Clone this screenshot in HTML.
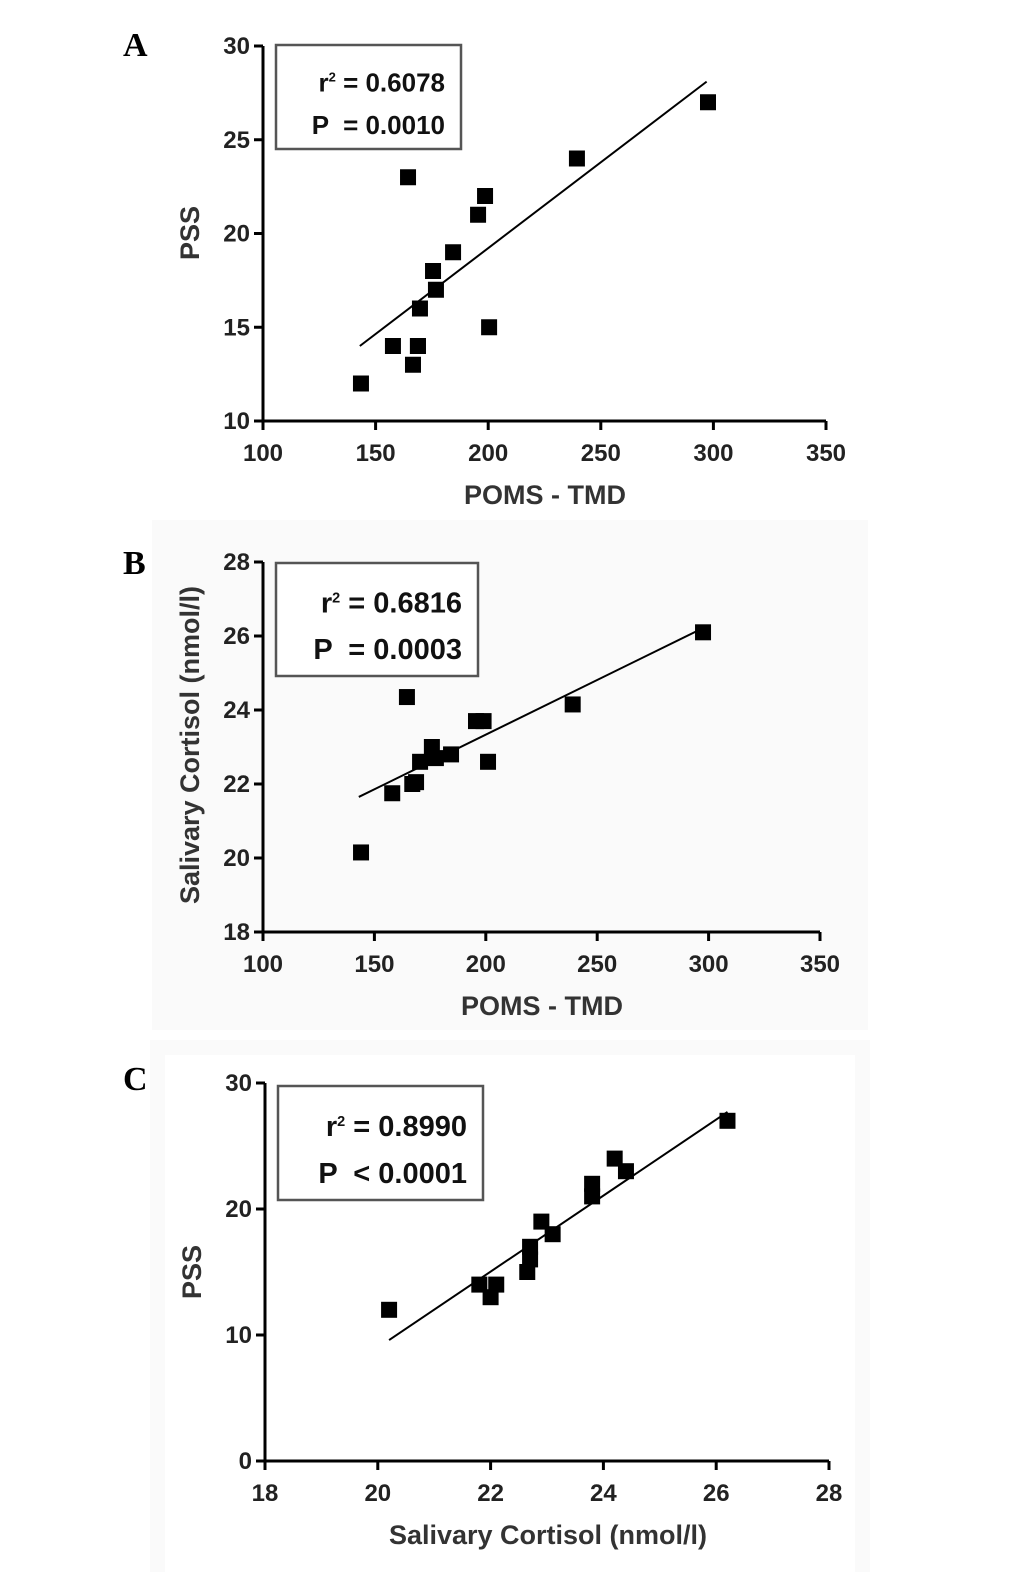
<!DOCTYPE html>
<html><head><meta charset="utf-8">
<style>
html,body{margin:0;padding:0;background:#fff;}
svg{display:block;font-family:"Liberation Sans",Arial,sans-serif;}
text{white-space:pre;}
</style></head>
<body>
<svg id="chart" width="1033" height="1572" viewBox="0 0 1033 1572">
<rect x="0" y="0" width="1033" height="1572" fill="#fff"/>
<rect x="152" y="520" width="716" height="510" fill="#fafafa"/>
<rect x="150" y="1040" width="720" height="532" fill="#fafafa"/>
<rect x="165" y="1055" width="690" height="517" fill="#fff"/>
<g id="plots"></g>
</svg>
<script>
// Panel A data
const aX = [143.5,157.7,164.4,166.6,168.8,169.7,175.5,176.8,184.4,195.5,198.6,200.4,239.4,297.6,168.8];
const aY = [12,14,23,13,14,16,18,17,19,21,22,15,24,27,14];
const aFit = [[143,14],[297,28.1]];
// Panel B data
const bX = [144,158,164.6,167,168.7,170.5,175.8,177.6,184.4,195.6,199,201,239,297.5];
const bY = [20.15,21.75,24.35,22,22.05,22.6,23,22.7,22.8,23.7,23.7,22.6,24.15,26.1];
const bFit = [[143,21.65],[297,26.2]];
// Panel C data
const cX = [20.2,21.8,22,22.1,22.65,22.7,22.7,22.9,23.1,23.8,23.8,24.2,24.4,26.2];
const cY = [12,14,13,14,15,16,17,19,18,21,22,24,23,27];
const cFit = [[20.2,9.6],[26.2,27.7]];
// ticks
const aXTicks = [100,150,200,250,300,350];
const aYTicks = [10,15,20,25,30];
const bXTicks = [100,150,200,250,300,350];
const bYTicks = [18,20,22,24,26,28];
const cXTicks = [18,20,22,24,26,28];
const cYTicks = [0,10,20,30];

const NS="http://www.w3.org/2000/svg";
const root=document.getElementById('plots');
function mk(tag,attrs,parent){const e=document.createElementNS(NS,tag);for(const k in attrs)e.setAttribute(k,attrs[k]);(parent||root).appendChild(e);return e;}

function panel(p){
  const g=mk('g',{});
  
  
  const sx=v=>p.x0+(v-p.xmin)/(p.xmax-p.xmin)*(p.x1-p.x0);
  const sy=v=>p.y0-(v-p.ymin)/(p.ymax-p.ymin)*(p.y0-p.y1);
  const lbl=mk('text',{x:p.lx,y:p.ly,'font-family':'Liberation Serif,serif','font-weight':'bold','font-size':34,fill:'#000'},g);
  lbl.textContent=p.letter;
  
  
  const ya=mk('line',{x1:p.x0,y1:p.y0,x2:p.x0,y2:p.y1,stroke:'#000','stroke-width':3},g);
  
  
  const xa=mk('line',{x1:p.x0,y1:p.y0,x2:p.x1,y2:p.y0,stroke:'#000','stroke-width':3},g);
  
  
  p.xt.forEach(v=>{
    const x=sx(v);
    mk('line',{x1:x,y1:p.y0,x2:x,y2:p.y0+9,stroke:'#000','stroke-width':3},g);
    const t=mk('text',{x:x,y:p.y0+40,'text-anchor':'middle','font-size':24,'font-weight':'bold',fill:'#222'},g);
    t.textContent=v;
    
    
  });
  p.yt.forEach(v=>{
    const y=sy(v);
    mk('line',{x1:p.x0-9,y1:y,x2:p.x0,y2:y,stroke:'#000','stroke-width':3},g);
    const t=mk('text',{x:p.x0-13,y:y+8,'text-anchor':'end','font-size':24,'font-weight':'bold',fill:'#222'},g);
    t.textContent=v;
    
    
  });
  const xt=mk('text',{x:p.xtx,y:p.y0+83,'text-anchor':'middle','font-size':27,'font-weight':'bold',fill:'#333'},g);
  xt.textContent=p.xtitle;
  
  
  const yt=mk('text',{x:0,y:0,'text-anchor':'middle','font-size':27,'font-weight':'bold',fill:'#333',transform:`translate(${p.x0-64},${p.yty}) rotate(-90)`},g);
  yt.textContent=p.ytitle;
  
  
  const fl=mk('line',{x1:sx(p.fit[0][0]),y1:sy(p.fit[0][1]),x2:sx(p.fit[1][0]),y2:sy(p.fit[1][1]),stroke:'#000','stroke-width':2},g);
  
  
  p.xs.forEach((v,i)=>{
    const r=mk('rect',{x:sx(v)-8,y:sy(p.ys[i])-8,width:16,height:16,fill:'#000'},g);
    
    
  });
  const b=p.box;
  const br=mk('rect',{x:b[0],y:b[1],width:b[2],height:b[3],fill:'#fff',stroke:'#555','stroke-width':2.5},g);
  
  
  const t1=mk('text',{x:b[0]+b[2]-16,y:b[1]+b[3]*0.36+9,'text-anchor':'end','font-size':b[4],'font-weight':'bold',fill:'#111'},g);
  t1.innerHTML='r<tspan dy="-10" font-size="'+(b[4]*0.5)+'">2</tspan><tspan dy="10"> = '+p.r2+'</tspan>';
  
  
  const t2=mk('text',{x:b[0]+b[2]-16,y:b[1]+b[3]*0.77+9,'text-anchor':'end','font-size':b[4],'font-weight':'bold',fill:'#111'},g);
  t2.textContent=p.pv;
  
  
}

panel({id:'panel-a',letter:'A',lx:123,ly:56,x0:263,x1:826,y0:421,y1:46,xmin:100,xmax:350,ymin:10,ymax:30,
  xt:aXTicks,yt:aYTicks,xs:aX,ys:aY,fit:aFit,xtitle:'POMS - TMD',xtx:545,ytitle:'PSS',yty:233,
  box:[276,45,185,104,26],r2:'0.6078',pv:'P  = 0.0010'});
panel({id:'panel-b',letter:'B',lx:123,ly:574,x0:263,x1:820,y0:932,y1:562,xmin:100,xmax:350,ymin:18,ymax:28,
  xt:bXTicks,yt:bYTicks,xs:bX,ys:bY,fit:bFit,xtitle:'POMS - TMD',xtx:542,ytitle:'Salivary Cortisol (nmol/l)',yty:745,
  box:[276,563,202,113,29],r2:'0.6816',pv:'P  = 0.0003'});
panel({id:'panel-c',letter:'C',lx:123,ly:1090,x0:265,x1:829,y0:1461,y1:1083,xmin:18,xmax:28,ymin:0,ymax:30,
  xt:cXTicks,yt:cYTicks,xs:cX,ys:cY,fit:cFit,xtitle:'Salivary Cortisol (nmol/l)',xtx:548,ytitle:'PSS',yty:1272,
  box:[278,1086,205,114,29],r2:'0.8990',pv:'P  < 0.0001'});
</script>
</body></html>
